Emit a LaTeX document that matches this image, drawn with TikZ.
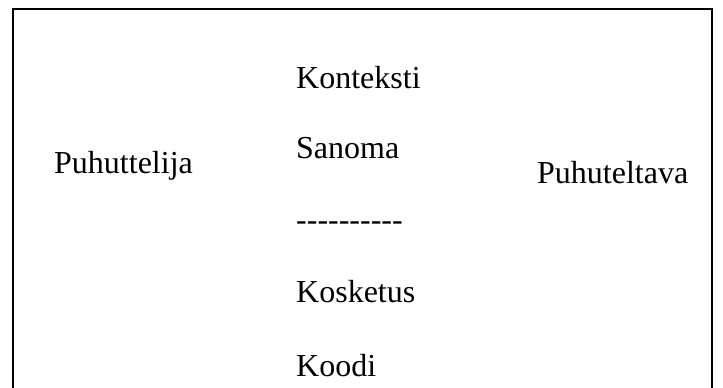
\documentclass[tikz,border=0pt]{standalone}
\usepackage{fontspec}
\setmainfont{Liberation Serif}[Ligatures=TeXOff]
\tikzset{sana/.style={anchor=base west, inner sep=0pt, font=\fontsize{32}{38}\selectfont}}
\begin{document}
\begin{tikzpicture}[x=1pt,y=-1pt]
\useasboundingbox (0,0) rectangle (723,388);
\draw[line width=2pt] (13,388)--(13,9)--(712,9)--(712,388);
\node[sana] (puhuttelija) at (54,173) {Puhuttelija};
\node[sana] (konteksti) at (296,88) {Konteksti};
\node[sana] (sanoma) at (296,158) {Sanoma};
\node[sana] (viiva) at (296,230) {----------};
\node[sana] (kosketus) at (296,302) {Kosketus};
\node[sana] (koodi) at (296,376) {Koodi};
\node[sana] (puhuteltava) at (537,183) {Puhuteltava};
\end{tikzpicture}
\end{document}
